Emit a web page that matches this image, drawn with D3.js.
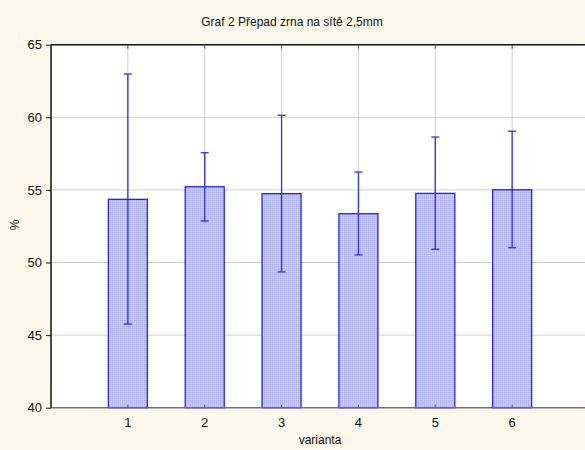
<!DOCTYPE html>
<html>
<head>
<meta charset="utf-8">
<script src="https://cdn.jsdelivr.net/npm/d3@7"></script>
<style>
  body { margin: 0; background: #fdf8ec; }
  text { font-family: "Liberation Sans", Arial, sans-serif; }
</style>
</head>
<body>
<div id="chart"></div>
<script>
const categories = [1, 2, 3, 4, 5, 6];
const means = [54.35, 55.22, 54.74, 53.36, 54.76, 55.01];
const upper = [62.98, 57.56, 60.14, 56.23, 58.64, 59.04];
const lower = [45.76, 52.86, 49.35, 50.52, 50.91, 51.02];
const yTicks = [40, 45, 50, 55, 60, 65];

const width = 585, height = 450;
const margin = { top: 44.7, right: -4, bottom: 42.3, left: 51 };

const svg = d3.select("#chart").append("svg")
    .attr("width", width)
    .attr("height", height);

svg.append("rect").attr("width", width).attr("height", height).attr("fill", "#fdf8ec");

const defs = svg.append("defs");
const pat = defs.append("pattern")
    .attr("id", "hatch")
    .attr("patternUnits", "userSpaceOnUse")
    .attr("width", 2).attr("height", 2);
pat.append("rect").attr("width", 2).attr("height", 2).attr("fill", "#c2c2fa");
pat.append("rect").attr("width", 1).attr("height", 1).attr("fill", "#aeaef2");
pat.append("rect").attr("x", 1).attr("y", 1).attr("width", 1).attr("height", 1).attr("fill", "#d2d2fd");

const x = d3.scaleLinear()
    .domain([0, 7])
    .range([margin.left, width - margin.right]);

const y = d3.scaleLinear()
    .domain([40, 65])
    .range([height - margin.bottom, margin.top]);

// plot area
svg.append("rect")
    .attr("x", x(0)).attr("y", y(65))
    .attr("width", x(7) - x(0)).attr("height", y(40) - y(65))
    .attr("fill", "#ffffff");

// grid
svg.append("g")
    .selectAll("line")
    .data(yTicks.filter(d => d > 40 && d < 65))
    .join("line")
    .attr("x1", x(0)).attr("x2", x(7))
    .attr("y1", d => y(d)).attr("y2", d => y(d))
    .attr("stroke", "#cfcfcf").attr("stroke-width", 1);

svg.append("g")
    .selectAll("line")
    .data(categories)
    .join("line")
    .attr("x1", d => x(d)).attr("x2", d => x(d))
    .attr("y1", y(65)).attr("y2", y(40))
    .attr("stroke", "#cfcfcf").attr("stroke-width", 1);

// bars
const bw = 39;
svg.append("g")
    .selectAll("rect")
    .data(categories)
    .join("rect")
    .attr("x", d => x(d) - bw / 2)
    .attr("y", (d, i) => y(means[i]))
    .attr("width", bw)
    .attr("height", (d, i) => y(40) - y(means[i]))
    .attr("fill", "url(#hatch)")
    .attr("stroke", "#2222ee")
    .attr("stroke-width", 1.3);

// error bars
const err = svg.append("g").attr("stroke", "#2a2af0").attr("stroke-width", 1.3);
err.selectAll("line.w")
    .data(categories)
    .join("line")
    .attr("class", "w")
    .attr("x1", d => x(d)).attr("x2", d => x(d))
    .attr("y1", (d, i) => y(upper[i])).attr("y2", (d, i) => y(lower[i]));
err.selectAll("line.u")
    .data(categories)
    .join("line")
    .attr("class", "u")
    .attr("x1", d => x(d) - 4).attr("x2", d => x(d) + 4)
    .attr("y1", (d, i) => y(upper[i])).attr("y2", (d, i) => y(upper[i]));
err.selectAll("line.l")
    .data(categories)
    .join("line")
    .attr("class", "l")
    .attr("x1", d => x(d) - 4).attr("x2", d => x(d) + 4)
    .attr("y1", (d, i) => y(lower[i])).attr("y2", (d, i) => y(lower[i]));

// frame
svg.append("line")
    .attr("x1", x(0)).attr("x2", x(7)).attr("y1", y(65)).attr("y2", y(65))
    .attr("stroke", "#111").attr("stroke-width", 1.5);
svg.append("line")
    .attr("x1", x(0)).attr("x2", x(7)).attr("y1", y(40)).attr("y2", y(40))
    .attr("stroke", "#707070").attr("stroke-width", 1.5);
svg.append("line")
    .attr("x1", x(0)).attr("x2", x(0)).attr("y1", y(65)).attr("y2", y(40))
    .attr("stroke", "#111").attr("stroke-width", 1.5);

// top inner ticks
svg.append("g")
    .selectAll("line")
    .data(categories)
    .join("line")
    .attr("x1", d => x(d)).attr("x2", d => x(d))
    .attr("y1", y(65)).attr("y2", y(65) + 4)
    .attr("stroke", "#555");

// bottom inner ticks
svg.append("g")
    .selectAll("line")
    .data(categories)
    .join("line")
    .attr("x1", d => x(d)).attr("x2", d => x(d))
    .attr("y1", y(40)).attr("y2", y(40) - 3)
    .attr("stroke", "#555");

// y axis
const yAxis = svg.append("g")
    .attr("transform", `translate(${x(0)},0)`)
    .call(d3.axisLeft(y).tickValues(yTicks).tickSize(5).tickPadding(4));
yAxis.select(".domain").remove();
yAxis.selectAll("line").attr("stroke", "#111");
yAxis.selectAll("text").attr("font-size", 13).attr("fill", "#111")
    .attr("font-family", "Liberation Sans, Arial, sans-serif");

// x axis labels
svg.append("g")
    .selectAll("text")
    .data(categories)
    .join("text")
    .attr("x", d => x(d))
    .attr("y", y(40) + 19)
    .attr("text-anchor", "middle")
    .attr("font-size", 13)
    .attr("fill", "#111")
    .text(d => d);

// titles
svg.append("text")
    .attr("x", 292).attr("y", 26)
    .attr("text-anchor", "middle")
    .attr("font-size", 12)
    .attr("fill", "#111")
    .text("Graf 2 Přepad zrna na sítě 2,5mm");

svg.append("text")
    .attr("x", (x(0) + x(7)) / 2).attr("y", 444)
    .attr("text-anchor", "middle")
    .attr("font-size", 12)
    .attr("fill", "#111")
    .text("varianta");

svg.append("text")
    .attr("transform", "translate(19,225) rotate(-90)")
    .attr("text-anchor", "middle")
    .attr("font-size", 12)
    .attr("fill", "#111")
    .text("%");
</script>
</body>
</html>
